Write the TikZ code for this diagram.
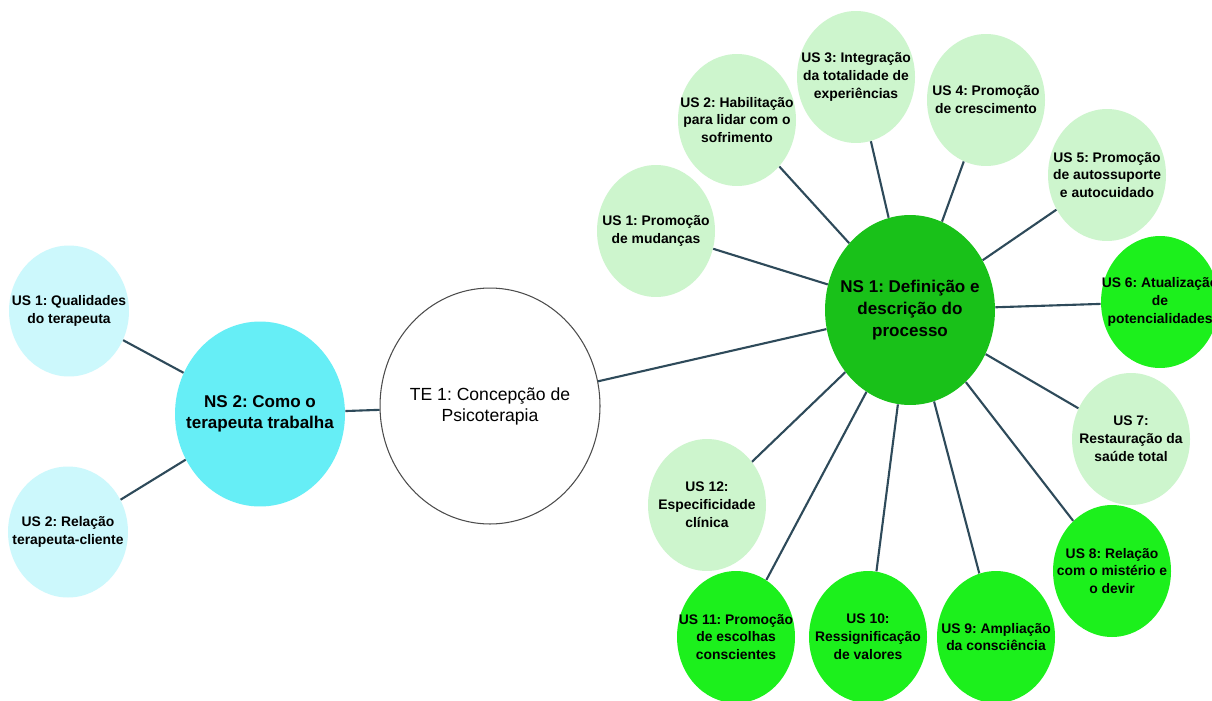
\documentclass[tikz,border=0pt]{standalone}
\usepackage{fontspec}
\setmainfont{Liberation Sans}
\usetikzlibrary{shapes.geometric}
\definecolor{cyanlt}{HTML}{CCF8FC}
\definecolor{cyanmd}{HTML}{66EEF6}
\definecolor{greenlt}{HTML}{CDF5CD}
\definecolor{greendk}{HTML}{19C119}
\definecolor{greenbr}{HTML}{1CF01C}
\definecolor{linkc}{HTML}{2E4A5A}
\frenchspacing
\tikzset{
  bub/.style={ellipse, draw=none, inner sep=0pt, minimum width=2.36cm, minimum height=2.64cm},
  bubL/.style={bub, fill=greenlt},
  bubB/.style={bub, fill=greenbr},
  bubC/.style={bub, fill=cyanlt, minimum width=2.4cm, minimum height=2.62cm},
  ustxt/.style={align=center, inner sep=0pt, font=\fontsize{7.9}{10.2}\selectfont\bfseries},
  nstxt/.style={align=center, inner sep=0pt, font=\fontsize{9.7}{12.3}\selectfont\bfseries},
  tetxt/.style={align=center, inner sep=0pt, font=\fontsize{10}{12}\selectfont},
  link/.style={draw=linkc, line width=1.2pt}
}
\begin{document}
\begin{tikzpicture}[x=0.02cm, y=-0.02cm]
\useasboundingbox (0,0) rectangle (1212,700);
\clip (0,0) rectangle (1212,700);
\fill[white] (0,0) rectangle (1212,700);
% central nodes
\node[ellipse, draw=black!70, line width=0.6pt, fill=white, inner sep=0pt, minimum width=4.4cm, minimum height=4.72cm] (te) at (490,406) {};
\node[ellipse, fill=cyanmd, inner sep=0pt, minimum width=3.4cm, minimum height=3.7cm] (ns2) at (260,414) {};
\node[ellipse, fill=greendk, inner sep=0pt, minimum width=3.4cm, minimum height=3.8cm] (ns1) at (910,310) {};
% left subunits
\node[bubC] (l1) at (69,311) {};
\node[bubC] (l2) at (68,532) {};
% right subunits
\node[bubL] (u1) at (656,231) {};
\node[bubL] (u2) at (737,120) {};
\node[bubL] (u3) at (856,77) {};
\node[bubL] (u4) at (986,100) {};
\node[bubL] (u5) at (1107,175) {};
\node[bubB] (u6) at (1160,302) {};
\node[bubL] (u7) at (1131,439) {};
\node[bubB] (u8) at (1112,571) {};
\node[bubB] (u9) at (996,637) {};
\node[bubB] (u10) at (868,637) {};
\node[bubB] (u11) at (736,637) {};
\node[bubL] (u12) at (707,505) {};
% connectors
\draw[link] (ns2) -- (te);
\draw[link] (te) -- (ns1);
\draw[link] (ns2) -- (l1);
\draw[link] (ns2) -- (l2);
\foreach \u in {u1,u2,u3,u4,u5,u6,u7,u8,u9,u10,u11,u12}
  \draw[link] (ns1) -- (\u);
% texts
\node[tetxt] (tet) at (te) {TE 1: Concepção de\\Psicoterapia};
\node[nstxt] (ns2t) at (ns2) {NS 2: Como o\\terapeuta trabalha};
\node[nstxt] (ns1t) at (ns1) {NS 1: Definição e\\descrição do\\processo};
\node[ustxt] (l1t) at (l1) {US 1: Qualidades\\do terapeuta};
\node[ustxt] (l2t) at (l2) {US 2: Relação\\terapeuta-cliente};
\node[ustxt] (u1t) at (u1) {US 1: Promoção\\de mudanças};
\node[ustxt] (u2t) at (u2) {US 2: Habilitação\\para lidar com o\\sofrimento};
\node[ustxt] (u3t) at (u3) {US 3: Integração\\da totalidade de\\experiências};
\node[ustxt] (u4t) at (u4) {US 4: Promoção\\de crescimento};
\node[ustxt] (u5t) at (u5) {US 5: Promoção\\de autossuporte\\e autocuidado};
\node[ustxt] (u6t) at (u6) {US 6: Atualização\\de\\potencialidades};
\node[ustxt] (u7t) at (u7) {US 7:\\Restauração da\\saúde total};
\node[ustxt] (u8t) at (u8) {US 8: Relação\\com o mistério e\\o devir};
\node[ustxt] (u9t) at (u9) {US 9: Ampliação\\da consciência};
\node[ustxt] (u10t) at (u10) {US 10:\\Ressignificação\\de valores};
\node[ustxt] (u11t) at (u11) {US 11: Promoção\\de escolhas\\conscientes};
\node[ustxt] (u12t) at (u12) {US 12:\\Especificidade\\clínica};
\end{tikzpicture}
\end{document}
